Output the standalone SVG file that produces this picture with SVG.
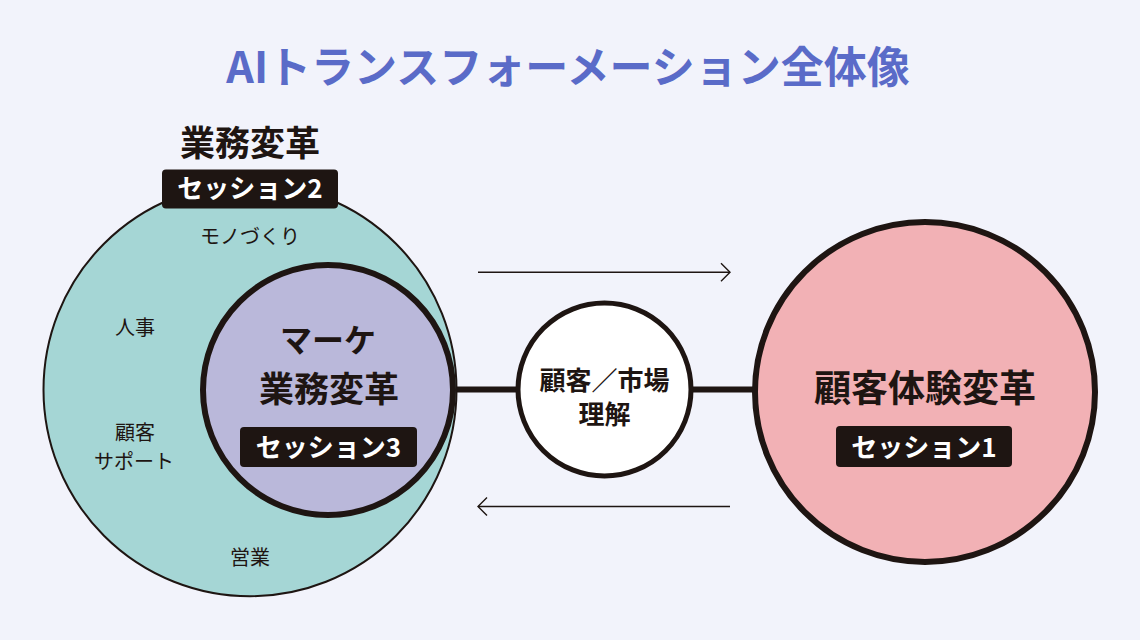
<svg xmlns="http://www.w3.org/2000/svg" width="1140" height="640" viewBox="0 0 1140 640">
<defs>
<style>
.t{font-family:"Noto Sans CJK JP","Noto Sans CJK SC",sans-serif;text-anchor:middle;fill:#1E1512}
.b{font-weight:700}
.r{font-weight:400;font-size:20px}
.badge rect{fill:#1E1512}
.badge text{font-family:"Noto Sans CJK JP","Noto Sans CJK SC",sans-serif;text-anchor:middle;fill:#FFFFFF;font-weight:700;font-size:26px}
.big{stroke:#1E1512;stroke-width:6}
.arr{stroke:#1E1512;stroke-width:1.4;fill:none}
</style>
</defs>
<rect width="1140" height="640" fill="#F2F3FB"/>
<text class="t b" x="568" y="83" font-size="43" style="fill:#5A6BC8">AIトランスフォーメーション全体像</text>

<g id="connectors">
<line x1="455" y1="389.5" x2="518" y2="389.5" class="big"/>
<line x1="691" y1="389.5" x2="755" y2="389.5" class="big"/>
<line x1="478" y1="272.3" x2="730" y2="272.3" class="arr"/>
<polyline points="721,263.3 730,272.3 721,281.3" class="arr"/>
<line x1="478" y1="506.5" x2="730" y2="506.5" class="arr"/>
<polyline points="487,497.5 478,506.5 487,515.5" class="arr"/>
</g>

<g id="gyomu">
<circle cx="250" cy="389.7" r="206.5" fill="#A5D6D5" stroke="#1E1512" stroke-width="2"/>
<text class="t b" x="250" y="156" font-size="35">業務変革</text>
<g class="badge"><rect x="162" y="169.5" width="176" height="39" rx="4"/><text x="250" y="198">セッション2</text></g>
<text class="t r" x="250" y="244">モノづくり</text>
<text class="t r" x="135" y="335">人事</text>
<text class="t r" x="135" y="440">顧客</text>
<text class="t r" x="134" y="469">サポート</text>
<text class="t r" x="250" y="565">営業</text>
</g>

<g id="marke">
<circle cx="328" cy="390" r="125" fill="#BAB8DA" stroke="#1E1512" stroke-width="6"/>
<text class="t b" x="328" y="352" font-size="32">マーケ</text>
<text class="t b" x="329" y="402" font-size="35">業務変革</text>
<g class="badge"><rect x="240" y="427" width="177" height="40" rx="4"/><text x="328.5" y="457">セッション3</text></g>
</g>

<g id="rikai">
<circle cx="604.5" cy="389.5" r="86.5" fill="#FFFFFF" stroke="#1E1512" stroke-width="5"/>
<text class="t b" x="604.5" y="390" font-size="26">顧客／市場</text>
<text class="t b" x="604.5" y="424" font-size="26">理解</text>
</g>

<g id="kokyaku">
<circle cx="925" cy="392" r="170" fill="#F2B1B5" stroke="#1E1512" stroke-width="6"/>
<text class="t b" x="925" y="402" font-size="37">顧客体験変革</text>
<g class="badge"><rect x="836" y="426" width="176" height="41" rx="4"/><text x="924" y="457">セッション1</text></g>
</g>
</svg>
